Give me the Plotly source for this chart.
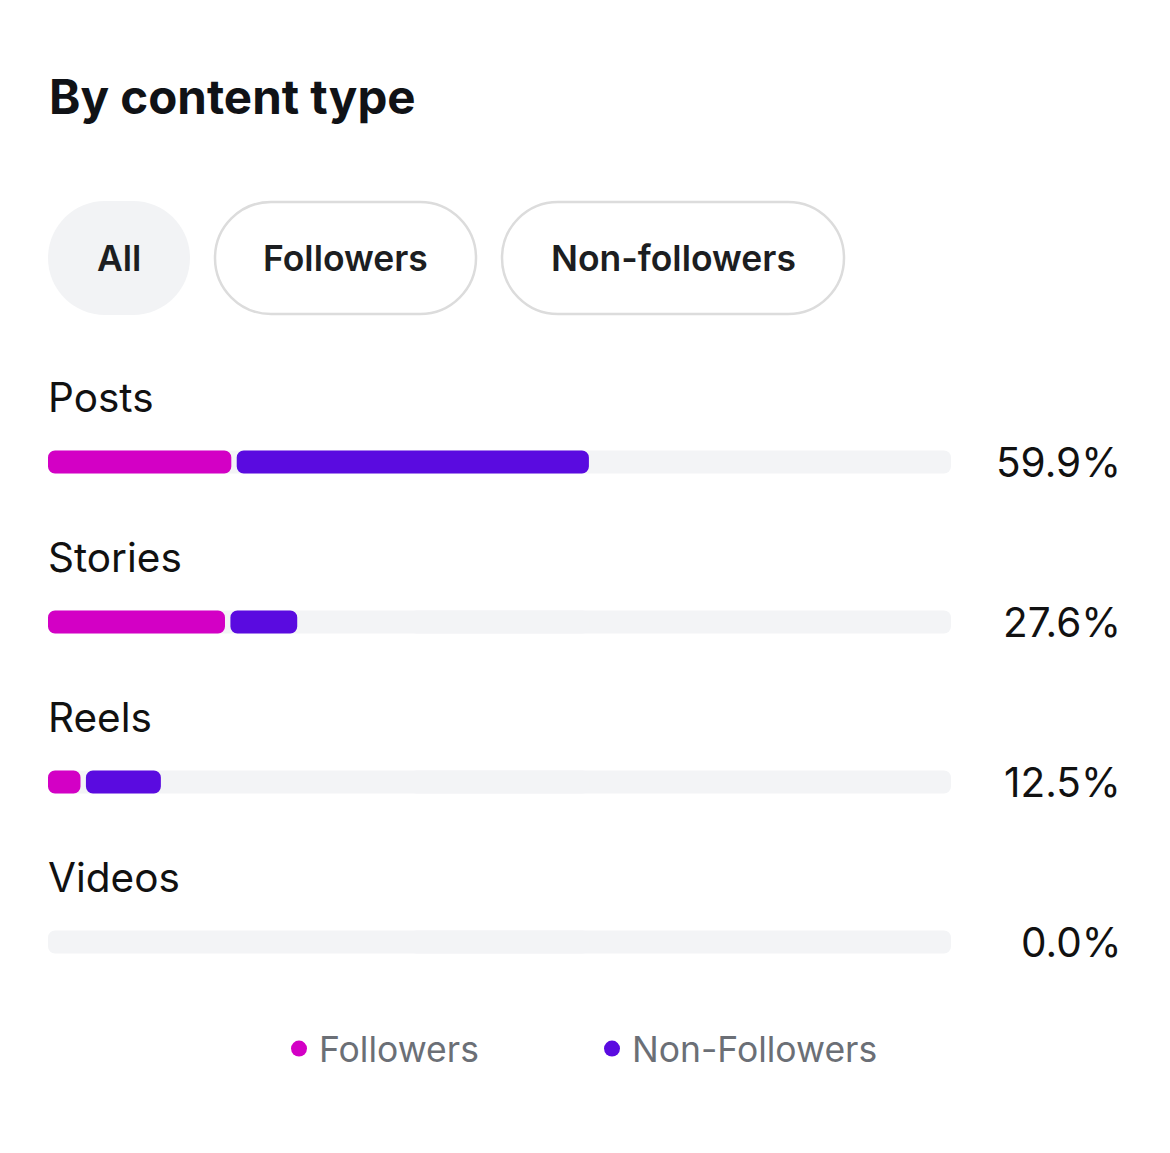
import numpy as np
import plotly.graph_objects as go

PAGE_W, PAGE_H = 1170, 1153
OFF = 8  # default body margin of the html page
W, H = PAGE_W - 2 * OFF, PAGE_H - 2 * OFF

# ---- data ----
categories = ["Posts", "Stories", "Reels", "Videos"]
followers = [20.3, 19.6, 3.6, 0.0]
non_followers = [39.6, 8.0, 8.9, 0.0]
totals = [59.9, 27.6, 12.5, 0.0]
filter_buttons = ["All", "Followers", "Non-followers"]
legend_names = ["Followers", "Non-Followers"]
title_text = "By content type"

# ---- style ----
C_FOL = "#d300c5"
C_NON = "#5a0be0"
C_TRACK = "#f3f4f6"
FONT = "Inter"
GAP = 0.6
BAR_W = 23 / 160

f = np.array(followers)
nf = np.array(non_followers)
ypos = np.arange(len(categories))

def X(px):
    return (px - OFF) / W

def Y(py):
    return 1 - (py - OFF) / H

fig = go.Figure()
# track (two overlapping halves so both ends are rounded)
n = len(ypos)
fig.add_trace(go.Bar(y=ypos, x=[60] * n, base=[40] * n, orientation="h",
                     width=BAR_W, marker=dict(color=C_TRACK, line=dict(width=0)),
                     showlegend=False, hoverinfo="skip"))
fig.add_trace(go.Bar(y=ypos, x=[-60] * n, base=[60] * n, orientation="h",
                     width=BAR_W, marker=dict(color=C_TRACK, line=dict(width=0)),
                     showlegend=False, hoverinfo="skip"))
# followers: drawn from f back to 0 so the left end is rounded
fig.add_trace(go.Bar(y=ypos, x=-f, base=f, orientation="h", width=BAR_W,
                     marker=dict(color=C_FOL, line=dict(width=0)), showlegend=False,
                     name=legend_names[0]))
# non-followers
nf_len = np.where(nf > 0, nf - GAP, 0)
fig.add_trace(go.Bar(y=ypos, x=nf_len, base=f + GAP, orientation="h", width=BAR_W,
                     marker=dict(color=C_NON, line=dict(width=0)), showlegend=False,
                     name=legend_names[1]))
# legend entries (circles)
for name, col in zip(legend_names, [C_FOL, C_NON]):
    fig.add_trace(go.Scatter(x=[None], y=[None], mode="markers", name=name,
                             marker=dict(color=col, size=17, symbol="circle")))

def rr(x0, y0, x1, y1, r):
    k = 0.5523 * r
    p = lambda x, y: f"{X(x):.5f},{Y(y):.5f}"
    return (f"M {p(x0+r,y0)} L {p(x1-r,y0)} C {p(x1-r+k,y0)} {p(x1,y0+r-k)} {p(x1,y0+r)} "
            f"L {p(x1,y1-r)} C {p(x1,y1-r+k)} {p(x1-r+k,y1)} {p(x1-r,y1)} "
            f"L {p(x0+r,y1)} C {p(x0+r-k,y1)} {p(x0,y1-r+k)} {p(x0,y1-r)} "
            f"L {p(x0,y0+r)} C {p(x0,y0+r-k)} {p(x0+r-k,y0)} {p(x0+r,y0)} Z")

shapes = []
annotations = []
pills = [(48, 201, 190, 315), (214, 201, 477, 315), (501, 201, 845, 315)]
for i, (lab, (x0, y0, x1, y1)) in enumerate(zip(filter_buttons, pills)):
    r = (y1 - y0) / 2
    if i == 0:
        shapes.append(dict(type="path", path=rr(x0, y0, x1, y1, r), xref="paper", yref="paper",
                           fillcolor="#f2f3f5", line=dict(width=0), layer="below"))
    else:
        shapes.append(dict(type="path", path=rr(x0 + 1, y0 + 1, x1 - 1, y1 - 1, r - 1), xref="paper",
                           yref="paper", fillcolor="white", line=dict(color="#dcdcdc", width=2.5),
                           layer="below"))
    annotations.append(dict(text=lab, x=X((x0 + x1) / 2), y=Y((y0 + y1) / 2), xref="paper", yref="paper",
                            showarrow=False, xanchor="center", yanchor="middle",
                            font=dict(family=FONT, size=35.5, color="#1c1e21", weight=600)))

annotations.append(dict(text=title_text, x=X(47), y=Y(97), xref="paper", yref="paper", showarrow=False,
                        xanchor="left", yanchor="middle",
                        font=dict(family=FONT, size=47.5, color="#101216", weight=700)))

for i, (cat, tot) in enumerate(zip(categories, totals)):
    annotations.append(dict(text=cat, x=0, y=i - 0.405, xref="x", yref="y", showarrow=False,
                            xanchor="left", yanchor="middle", xshift=-2,
                            font=dict(family=FONT, size=40.5, color="#111111")))
    annotations.append(dict(text=f"{tot:.1f}%", x=X(1123), y=i, xref="paper", yref="y", showarrow=False,
                            xanchor="right", yanchor="middle",
                            font=dict(family=FONT, size=40.5, color="#111111")))

y_top = (OFF - 462) / 160
y_bot = (OFF + H - 462) / 160

fig.update_layout(
    width=W, height=H, autosize=False,
    margin=dict(l=0, r=0, t=0, b=0),
    paper_bgcolor="white", plot_bgcolor="white",
    barmode="overlay", barcornerradius=7,
    xaxis=dict(domain=[X(48), X(951)], range=[0, 100], visible=False, fixedrange=True),
    yaxis=dict(domain=[0, 1], range=[y_bot, y_top], visible=False, fixedrange=True),
    shapes=shapes, annotations=annotations,
    showlegend=True,
    legend=dict(orientation="h", x=X(279), y=Y(1049), xanchor="left", yanchor="middle",
                font=dict(family=FONT, size=35.5, color="#6b6f76"),
                entrywidth=268, entrywidthmode="pixels", itemwidth=30,
                bgcolor="rgba(0,0,0,0)"),
)

fig.write_html("out.html")
